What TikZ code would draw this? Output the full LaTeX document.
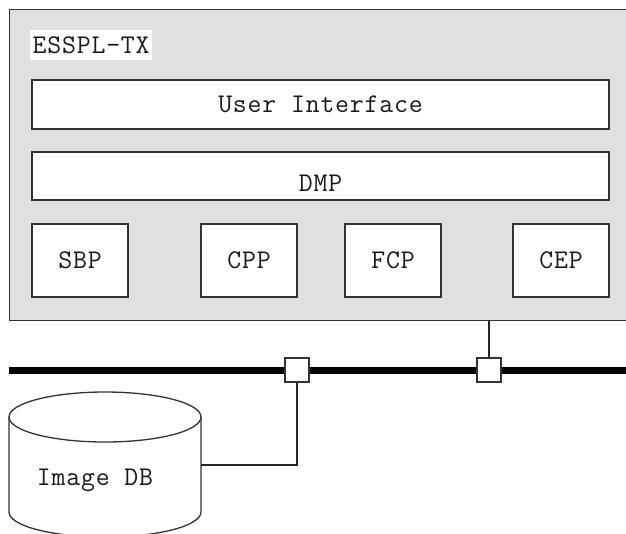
\documentclass[tikz,border=0pt]{standalone}
\usepackage{fontspec}
\setmonofont{Latin Modern Mono}[LetterSpace=3]
\begin{document}
\begin{tikzpicture}[x=1pt,y=-1pt,
  every node/.style={font=\ttfamily\fontsize{27}{32}\selectfont, text=black!90},
  frame/.style={draw=black!80, line width=1.3pt},
  layer/.style={frame, fill=white, minimum width=577, minimum height=48, inner sep=0},
  module/.style={frame, fill=white, minimum width=96, minimum height=73, inner sep=0},
  port/.style={frame, fill=white, minimum width=24, minimum height=24, inner sep=0},
  wire/.style={draw=black!85, line width=1.1pt}]
\useasboundingbox (0,0) rectangle (626,533);
\clip (0,0) rectangle (626,533);

% system enclosure
\node[frame, fill=black!12, anchor=north west, minimum width=640, minimum height=311, inner sep=0] (sys) at (9,9) {};
\node[fill=white, anchor=west, inner xsep=2.5pt, inner ysep=0, minimum height=30] (title) at (30,45) {ESSPL-TX};

% layers
\node[layer, minimum height=49] (ui) at (320.5,104.5) {User Interface};
\node[layer, label={[anchor=center, yshift=-7pt]center:DMP}] (dmp) at (320.5,176) {};

% processes
\node[module] (sbp) at (80,260.5) {SBP};
\node[module] (cpp) at (249,260.5) {CPP};
\node[module] (fcp) at (393,260.5) {FCP};
\node[module] (cep) at (561,260.5) {CEP};

% network bus
\coordinate (busL) at (9,370);
\coordinate (busR) at (640,370);
\draw[line width=7pt, black] (busL) -- (busR);
\node[port] (p1) at (297,370) {};
\node[port] (p2) at (489,370) {};

% image database cylinder
\draw[frame, fill=white] (9,417) -- (9,512) arc[start angle=180, end angle=0, x radius=96, y radius=25] -- (201,417);
\draw[frame, fill=white] (105,417) ellipse[x radius=96, y radius=25];
\node (db) at (95,480) {Image DB};
\coordinate (dbR) at (201,465);

% links
\draw[wire] (p2.north) -- (p2.north |- sys.south);
\draw[wire] (p1.south) |- (dbR);
\end{tikzpicture}
\end{document}
